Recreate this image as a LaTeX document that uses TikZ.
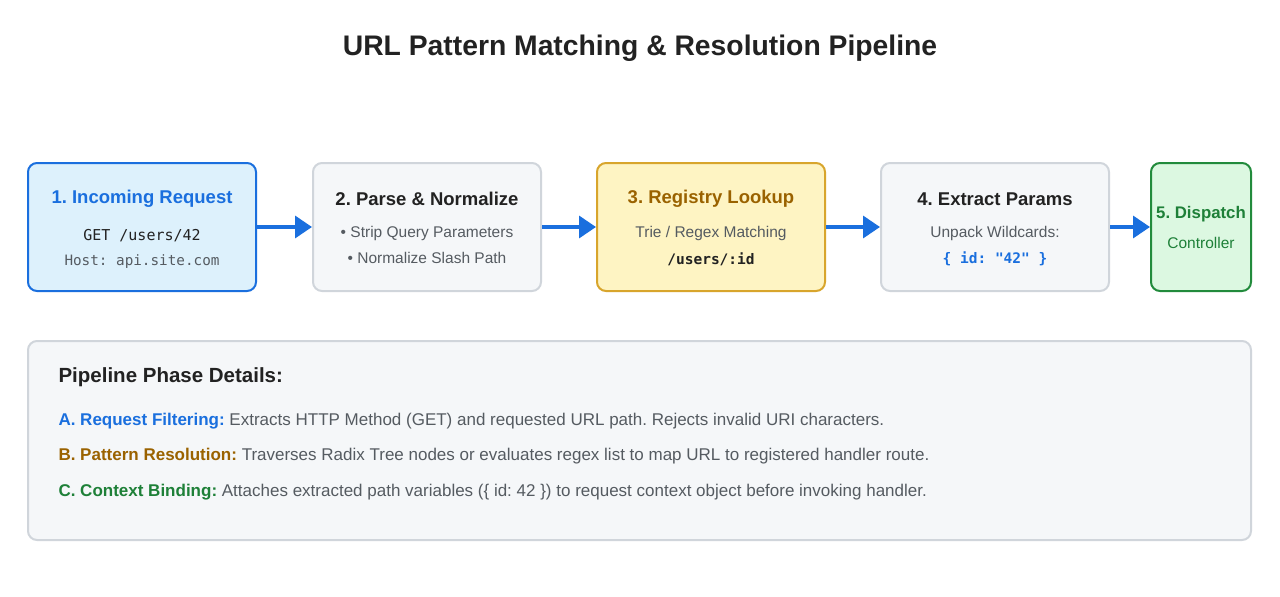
\documentclass[tikz,border=0pt]{standalone}
\usepackage{fontspec}
\setmainfont{Liberation Sans}
\newfontfamily\monof{DejaVu Sans Mono}
\usetikzlibrary{arrows.meta}
\definecolor{blueB}{HTML}{1A6FDE}
\definecolor{blueF}{HTML}{DDF1FC}
\definecolor{grayB}{HTML}{D0D5DB}
\definecolor{grayF}{HTML}{F5F7F9}
\definecolor{yelB}{HTML}{D8A52C}
\definecolor{yelF}{HTML}{FEF4C3}
\definecolor{yelT}{HTML}{9A6200}
\definecolor{grnB}{HTML}{228B3C}
\definecolor{grnF}{HTML}{DCF8E1}
\definecolor{grnT}{HTML}{1E8038}
\definecolor{txt}{HTML}{222222}
\definecolor{sub}{HTML}{555B61}
\frenchspacing
\begin{document}
\frenchspacing
\begin{tikzpicture}[x=1pt,y=-1pt,
 box/.style={draw,line width=2pt,rounded corners=9pt,minimum height=128pt,minimum width=#1,inner sep=0pt},
 ttl/.style={font=\fontsize{18.5}{22}\selectfont\bfseries},
 bd/.style={font=\fontsize{15.5}{19}\selectfont,text=sub},
 mono/.style={font=\monof\fontsize{15}{18}\selectfont},
 arr/.style={draw=blueB,line width=3.5pt,-{Triangle[length=17pt,width=22pt]}},
 det/.style={anchor=west,font=\fontsize{17}{20}\selectfont,text=sub}]
\useasboundingbox (0,0) rectangle (1280,597);
\fill[white] (0,0) rectangle (1280,597);
\node[font=\fontsize{28.3}{32}\selectfont\bfseries,text=txt] (title) at (640,48) {URL Pattern Matching \& Resolution Pipeline};
\node[box=228pt,draw=blueB,fill=blueF] (b1) at (142,227) {};
\node[box=228pt,draw=grayB,fill=grayF] (b2) at (427,227) {};
\node[box=228pt,draw=yelB,fill=yelF] (b3) at (711,227) {};
\node[box=228pt,draw=grayB,fill=grayF] (b4) at (995,227) {};
\node[box=100pt,draw=grnB,fill=grnF] (b5) at (1201,227) {};
\node[ttl,text=blueB] (t1) at (142,199) {1. Incoming Request};
\node[mono,text=txt] (m1) at (142,236) {GET /users/42};
\node[mono,text=sub,font=\monof\fontsize{14.3}{16}\selectfont] (h1) at (142,262) {Host: api.site.com};
\node[ttl,text=txt] (t2) at (427,199) {2. Parse \& Normalize};
\node[bd] (s2a) at (427,233) {• Strip Query Parameters};
\node[bd] (s2b) at (427,258) {• Normalize Slash Path};
\node[ttl,text=yelT] (t3) at (711,199) {3. Registry Lookup};
\node[bd] (s3) at (711,233) {Trie / Regex Matching};
\node[mono,text=txt,font=\monof\bfseries\fontsize{14.5}{18}\selectfont] (m3) at (711,259) {/users/:id};
\node[ttl,text=txt] (t4) at (995,199) {4. Extract Params};
\node[bd] (s4) at (995,233) {Unpack Wildcards:};
\node[mono,text=blueB,font=\monof\bfseries\fontsize{14.5}{18}\selectfont] (m4) at (995,259) {\{ id: "42" \}};
\node[font=\fontsize{16.8}{20}\selectfont\bfseries,text=grnT] (t5) at (1201,214) {5. Dispatch};
\node[bd,text=grnT] (s5) at (1201,243) {Controller};
\draw[arr] (b1.east) -- (b2.west);
\draw[arr] (b2.east) -- (b3.west);
\draw[arr] (b3.east) -- (b4.west);
\draw[arr] (b4.east) -- (b5.west);
\node[draw=grayB,fill=grayF,line width=2pt,rounded corners=9pt,minimum width=1223pt,minimum height=199pt] (det) at (639.5,440.5) {};
\node[anchor=west,font=\fontsize{20.5}{23}\selectfont\bfseries,text=txt] (dh) at (55,377) {Pipeline Phase Details:};
\node[det] (dA) at (55,421) {\textcolor{blueB}{\bfseries A. Request Filtering:} Extracts HTTP Method (GET) and requested URL path. Rejects invalid URI characters.};
\node[det] (dB) at (55,456) {\textcolor{yelT}{\bfseries B. Pattern Resolution:} Traverses Radix Tree nodes or evaluates regex list to map URL to registered handler route.};
\node[det] (dC) at (55,492) {\textcolor{grnT}{\bfseries C. Context Binding:} Attaches extracted path variables (\{ id: 42 \}) to request context object before invoking handler.};
\end{tikzpicture}
\end{document}
